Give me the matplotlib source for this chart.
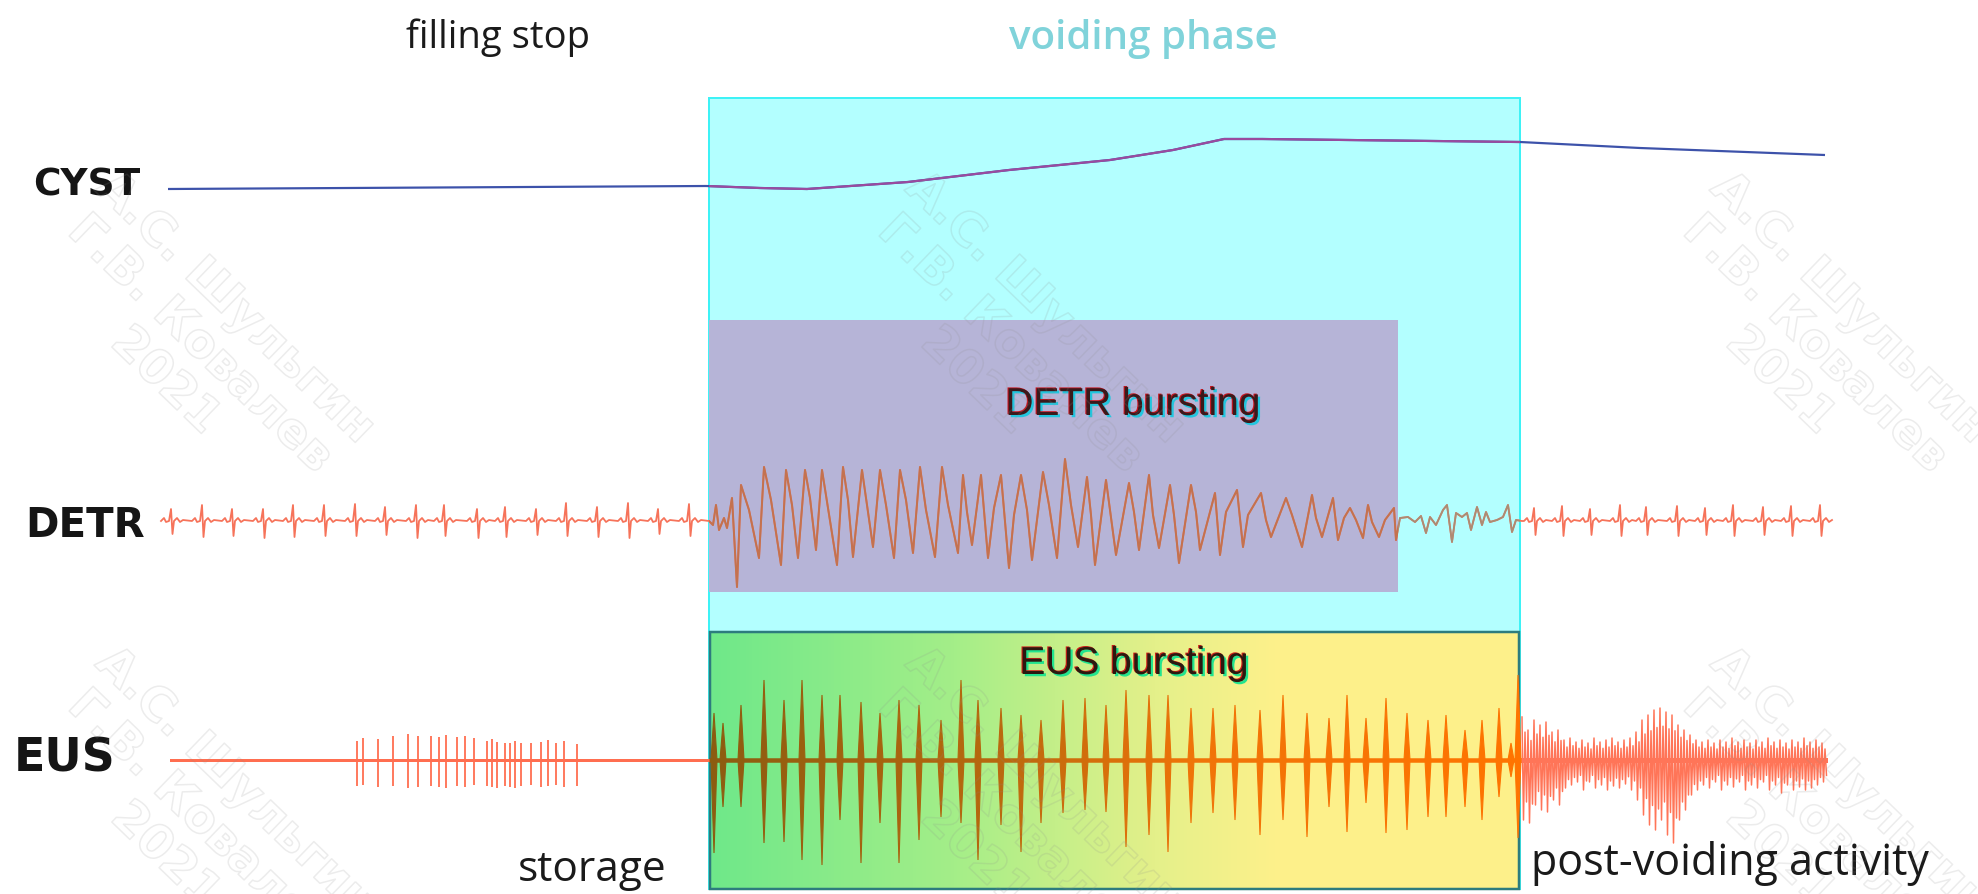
import numpy as np
import matplotlib
matplotlib.use("Agg")
import matplotlib.pyplot as plt
from matplotlib.patches import Rectangle
from matplotlib.colors import LinearSegmentedColormap
import matplotlib.patheffects as pe

# ---------------- data (diagram units = time axis 0..1978, level axis 0..894) ----------------
t_start, t_end = 168, 1825
voiding_start, voiding_end = 709, 1520
detr_burst_end = 1398

# CYST pressure trace
cyst_t = [168, 706, 760, 807, 908, 1009, 1110, 1173, 1224, 1262, 1520, 1640, 1825]
cyst_v = [189, 186, 188, 189, 182, 170, 160, 150, 139, 139, 142, 148, 155]

# DETR baseline level
detr_base = 521
# DETR tonic spikes (storage)
detr_pre_t = [171, 202, 232, 263, 293, 324, 355, 385, 416, 444, 477, 505, 536, 566, 597, 628, 658, 689]
detr_pre_up = [12, 16, 12, 12, 16, 16, 17, 14, 16, 16, 12, 14, 12, 18, 14, 18, 12, 17]
detr_pre_dn = [13, 16, 15, 17, 16, 15, 15, 14, 17, 15, 17, 16, 14, 15, 16, 17, 13, 15]
# DETR burst onset
detr_onset_t = [709, 713, 716, 719, 724, 727, 732]
detr_onset_v = [521, 525, 505, 530, 518, 528, 498]
# DETR burst peaks / troughs
detr_peak_t = [741, 764, 786, 805, 822, 843, 862, 880, 900, 920, 942, 963, 981, 1001, 1021, 1043,
               1065, 1087, 1106, 1129, 1149, 1170, 1191, 1215, 1237, 1261, 1286, 1312, 1333, 1350, 1368, 1394]
detr_peak_v = [485, 467, 470, 470, 470, 467, 470, 470, 470, 467, 467, 475, 475, 475, 475, 472,
               459, 477, 480, 483, 475, 485, 485, 493, 490, 493, 498, 495, 498, 508, 505, 508]
detr_trough_t = [737, 759, 781, 798, 816, 837, 853, 873, 894, 913, 935, 958, 972, 988, 1009, 1032, 1057,
                 1078, 1095, 1116, 1139, 1159, 1179, 1200, 1220, 1243, 1271, 1302, 1322, 1338, 1363, 1379, 1396]
detr_trough_v = [587, 558, 565, 558, 550, 565, 557, 547, 558, 553, 557, 553, 545, 558, 568, 560, 558,
                 547, 565, 555, 550, 548, 563, 550, 555, 547, 537, 547, 537, 540, 538, 537, 540]
# DETR secondary shoulders inside the burst (read between peaks and troughs)
detr_sh_t = [749, 771, 792, 810, 828, 848, 868, 886, 906, 926, 948, 967, 994, 1014, 1027, 1049,
             1071, 1091, 1110, 1134, 1153, 1174, 1196, 1226, 1248, 1266, 1292, 1316, 1344, 1356, 1372, 1385]
detr_sh_v = [510, 500, 505, 498, 508, 500, 512, 505, 500, 510, 505, 512, 508, 515, 510, 505,
             505, 515, 510, 512, 515, 515, 512, 512, 515, 520, 515, 518, 518, 520, 522, 520]
# DETR late voiding wiggles
detr_late_t = [1400, 1408, 1415, 1421, 1426, 1430, 1436, 1443, 1447, 1452, 1456, 1462, 1467, 1471,
               1477, 1482, 1486, 1490, 1497, 1503, 1508, 1512, 1516, 1522]
detr_late_v = [518, 517, 522, 516, 533, 517, 525, 510, 505, 542, 513, 517, 513, 530,
               507, 525, 512, 522, 520, 517, 505, 532, 520, 521]
# DETR tonic spikes (post voiding)
detr_post_t = [1534, 1562, 1590, 1620, 1646, 1677, 1705, 1733, 1763, 1791, 1820]
detr_post_up = [13, 15, 12, 16, 14, 15, 13, 16, 14, 15, 16]
detr_post_dn = [14, 15, 14, 15, 14, 15, 14, 15, 14, 15, 15]

# EUS baseline
eus_base = 760
# EUS storage burst
eus_sto_t = [357, 363, 378, 393, 408, 418, 431, 439, 446, 457, 465, 474, 487, 492, 497, 505, 510, 515,
             521, 531, 541, 548, 556, 564, 577]
eus_sto_up = [19, 22, 21, 24, 26, 24, 24, 23, 25, 23, 24, 22, 19, 21, 18, 17, 17, 19, 17, 17, 18, 20, 17, 19, 16]
eus_sto_dn = [26, 25, 27, 26, 28, 27, 26, 27, 28, 26, 27, 25, 26, 27, 28, 26, 27, 28, 26, 25, 27, 26, 25, 27, 26]
# EUS voiding bursts
eus_void_t = [714, 723, 741, 764, 784, 802, 822, 840, 861, 880, 899, 919, 941, 961, 978, 1001, 1021,
              1041, 1063, 1085, 1106, 1126, 1149, 1168, 1191, 1213, 1235, 1260, 1283, 1307, 1329, 1347,
              1366, 1386, 1407, 1428, 1446, 1465, 1482, 1499, 1511, 1518]
eus_void_up = [47, 37, 55, 80, 60, 80, 65, 65, 58, 47, 60, 55, 40, 80, 60, 52, 45, 40, 60, 62, 55,
               70, 65, 65, 52, 52, 55, 50, 65, 47, 42, 65, 42, 62, 47, 40, 45, 30, 40, 52, 17, 85]
eus_void_dn = [93, 47, 47, 83, 82, 100, 105, 60, 103, 63, 103, 80, 57, 63, 100, 65, 92, 63, 53, 50, 52,
               87, 75, 92, 63, 53, 60, 75, 60, 77, 47, 72, 43, 73, 70, 57, 57, 47, 60, 37, 17, 78]
# EUS post-voiding activity
eus_post_t = [1522, 1528, 1534, 1540, 1546, 1552, 1558, 1564, 1570, 1576, 1582, 1588, 1594, 1600, 1606,
              1612, 1618, 1624, 1630, 1636, 1642, 1648, 1654, 1660, 1666, 1672, 1678, 1684, 1690, 1696,
              1702, 1708, 1714, 1720, 1726, 1732, 1738, 1744, 1750, 1756, 1762, 1768, 1774, 1780, 1786,
              1792, 1798, 1804, 1810, 1816, 1822]
eus_post_up = [43, 30, 40, 35, 38, 28, 30, 20, 22, 18, 20, 17, 22, 18, 20, 22, 18, 20, 22, 28, 40, 45,
               50, 52, 48, 45, 35, 30, 25, 20, 18, 20, 17, 20, 18, 22, 18, 20, 17, 20, 18, 22, 18, 20,
               17, 20, 18, 22, 18, 20, 17]
eus_post_dn = [60, 63, 45, 50, 52, 40, 45, 28, 25, 22, 30, 22, 28, 25, 30, 26, 28, 24, 30, 40, 55, 65,
               70, 60, 75, 83, 60, 50, 35, 30, 25, 28, 22, 30, 25, 27, 22, 30, 25, 28, 22, 30, 25, 33,
               25, 30, 27, 30, 28, 25, 22]

labels_left = ["CYST", "DETR", "EUS"]
phase_titles = ["filling stop", "voiding phase"]
box_titles = ["DETR bursting", "EUS bursting"]
bottom_labels = ["storage", "post-voiding activity"]
watermark = "А.С. Шульгин\nГ.В. Ковалев\n2021"

# ---------------- figure ----------------
W, H = 1978, 894
fig = plt.figure(figsize=(W / 100, H / 100), dpi=100)
ax = fig.add_axes([0, 0, 1, 1])
ax.set_xlim(0, W)
ax.set_ylim(H, 0)
ax.axis("off")
PX = 0.72  # points per pixel

# regions
cyan_rect = Rectangle((voiding_start, 98), voiding_end - voiding_start, 791,
                      facecolor="#b3ffff", edgecolor="#3ef2f6", lw=2 * PX, zorder=1)
ax.add_patch(cyan_rect)
purple_rect = Rectangle((voiding_start, 320), detr_burst_end - voiding_start, 272,
                        facecolor="#b6b4d7", edgecolor="none", zorder=2)
ax.add_patch(purple_rect)
late_rect = Rectangle((detr_burst_end, 98), voiding_end - detr_burst_end, 791,
                      facecolor="none", edgecolor="none")
ax.add_patch(late_rect)

# EUS gradient box
grad_cmap = LinearSegmentedColormap.from_list(
    "g", [(0, "#6fe88a"), (0.3, "#a4ee88"), (0.55, "#e4f08a"), (0.7, "#fdf08a"), (1, "#fdf08a")])
ax.imshow(np.linspace(0, 1, 256)[None, :], cmap=grad_cmap, aspect="auto",
          extent=(voiding_start + 1, voiding_end - 1, 889, 632), zorder=2, interpolation="bilinear")
ax.add_patch(Rectangle((voiding_start + 1, 632), voiding_end - voiding_start - 2, 257,
                       facecolor="none", edgecolor="#2d7c7e", lw=2.5 * PX, zorder=2.5))
ax.set_xlim(0, W)
ax.set_ylim(H, 0)

# ---------------- CYST ----------------
ax.plot(cyst_t, cyst_v, color="#3d52aa", lw=2.2 * PX, zorder=3, solid_capstyle="butt")
ln = ax.plot(cyst_t, cyst_v, color="#9a4b9e", lw=2.2 * PX, zorder=3.1)[0]
ln.set_clip_path(cyan_rect)

# ---------------- DETR ----------------
xs, ys = [], []
tmpl_dx = [-10, -7, -5, -2, 0, 1.5, 3, 6, 9, 12]
def add_spike(t, up, dn):
    dys = [0, -3, 1, 0, -up, dn, 0, -3, 1, -1]
    for dx, dy in zip(tmpl_dx, dys):
        xs.append(t + dx)
        ys.append(detr_base + dy)

for t, u, d in zip(detr_pre_t, detr_pre_up, detr_pre_dn):
    add_spike(t, u, d)
xs += detr_onset_t
ys += detr_onset_v
bt = np.array(detr_peak_t + detr_trough_t + detr_sh_t)
bv = np.array(detr_peak_v + detr_trough_v + detr_sh_v)
order = np.argsort(bt)
xs += list(bt[order])
ys += list(bv[order])
xs += detr_late_t
ys += detr_late_v
for t, u, d in zip(detr_post_t, detr_post_up, detr_post_dn):
    add_spike(t, u, d)

ax.plot(xs, ys, color="#f6735a", lw=1.8 * PX, zorder=3)
l2 = ax.plot(xs, ys, color="#c3724f", lw=2.0 * PX, zorder=3.1)[0]
l2.set_clip_path(purple_rect)
l3 = ax.plot(xs, ys, color="#aa8c74", lw=1.8 * PX, zorder=3.1)[0]
l3.set_clip_path(late_rect)

# ---------------- EUS ----------------
sal = "#ff6e50"
ax.plot([171, voiding_start], [eus_base, eus_base], color=sal, lw=3 * PX, zorder=3)
ax.vlines(eus_sto_t, [eus_base - u for u in eus_sto_up], [eus_base + d for d in eus_sto_dn],
          color=sal, lw=1.8 * PX, zorder=3)

spike_cmap = LinearSegmentedColormap.from_list(
    "s", [(0, "#8c5c10"), (0.35, "#b8680e"), (0.6, "#f07408"), (1, "#ff7400")])
def scol(t):
    return spike_cmap((t - voiding_start) / (voiding_end - voiding_start))

# baseline inside box, coloured by time
bt_e = [voiding_start] + eus_void_t + [voiding_end]
for a, b in zip(bt_e[:-1], bt_e[1:]):
    ax.plot([a, b], [eus_base, eus_base], color=scol((a + b) / 2), lw=4.5 * PX, zorder=3,
            solid_capstyle="butt")
hw = 3.0
for t, u, d in zip(eus_void_t, eus_void_up, eus_void_dn):
    c = scol(t)
    ax.fill([t - hw, t, t + hw, t], [eus_base, eus_base - u, eus_base, eus_base + d],
            color=c, lw=0.8, ec=c, zorder=3.2)

# post voiding: dense oscillation within the read envelope
px_, py_ = [], []
for t, u, d in zip(eus_post_t, eus_post_up, eus_post_dn):
    px_ += [t, t + 1.5, t + 3, t + 4.5]
    py_ += [eus_base - u, eus_base + d, eus_base - 0.65 * u, eus_base + 0.7 * d]
ax.plot(px_, py_, color="#ff7558", lw=1.5 * PX, zorder=3)
ax.plot([voiding_end, t_end], [eus_base, eus_base], color="#ff7558", lw=5 * PX, zorder=3)

# ---------------- texts ----------------
sans = ["Open Sans", "DejaVu Sans"]
ax.text(498, 48, phase_titles[0], fontsize=27.5, family=sans, color="#1a1a1a",
        ha="center", va="baseline", zorder=5)
ax.text(1143, 49, phase_titles[1], fontsize=29, family=sans, color="#80d3da", weight="semibold",
        ha="center", va="baseline", zorder=5)

ax.text(33, 196, labels_left[0], fontsize=27, family="DejaVu Sans", weight="bold", color="#151515",
        ha="left", va="baseline", zorder=5)
ax.text(25, 537, labels_left[1], fontsize=29, family="DejaVu Sans", weight="bold", color="#151515",
        ha="left", va="baseline", zorder=5)
ax.text(14, 772, labels_left[2], fontsize=33, family="DejaVu Sans", weight="bold", color="#151515",
        ha="left", va="baseline", zorder=5)

ax.text(518, 881, bottom_labels[0], fontsize=30.5, family=sans, color="#1a1a1a",
        ha="left", va="baseline", zorder=5)
ax.text(1531, 875, bottom_labels[1], fontsize=31, family=sans, color="#1a1a1a",
        ha="left", va="baseline", zorder=5)

arial = ["Liberation Sans", "DejaVu Sans"]
detr_fx = [pe.SimplePatchShadow(offset=(1.6, -1.6), shadow_rgbFace="#22c6de", alpha=1.0),
           pe.SimplePatchShadow(offset=(-0.8, 0.6), shadow_rgbFace="#c8141e", alpha=1.0),
           pe.Normal()]
eus_fx = [pe.SimplePatchShadow(offset=(1.6, -1.6), shadow_rgbFace="#22e48e", alpha=1.0),
          pe.SimplePatchShadow(offset=(-0.8, 0.6), shadow_rgbFace="#d0201a", alpha=1.0),
          pe.Normal()]
ax.text(1133, 415, box_titles[0], fontsize=28, family=arial, color="#3a1a1c",
        ha="center", va="baseline", zorder=5, path_effects=detr_fx)
ax.text(1134, 674, box_titles[1], fontsize=28, family=arial, color="#2a1a10",
        ha="center", va="baseline", zorder=5, path_effects=eus_fx)

# ---------------- watermark ----------------
wm_cols = [200, 1010, 1815]
wm_rows = [345, 820]
for cy in wm_rows:
    for cx in wm_cols:
        ax.text(cx, cy, watermark, fontsize=34, family="DejaVu Sans", weight="bold",
                color=(1, 1, 1, 0), rotation=-44, rotation_mode="anchor",
                ha="center", va="center", multialignment="center", linespacing=1.15, zorder=6,
                path_effects=[pe.Stroke(linewidth=1.1, foreground=(0.55, 0.55, 0.55, 0.16))])

fig.savefig("out.png", dpi=100, facecolor="white")
